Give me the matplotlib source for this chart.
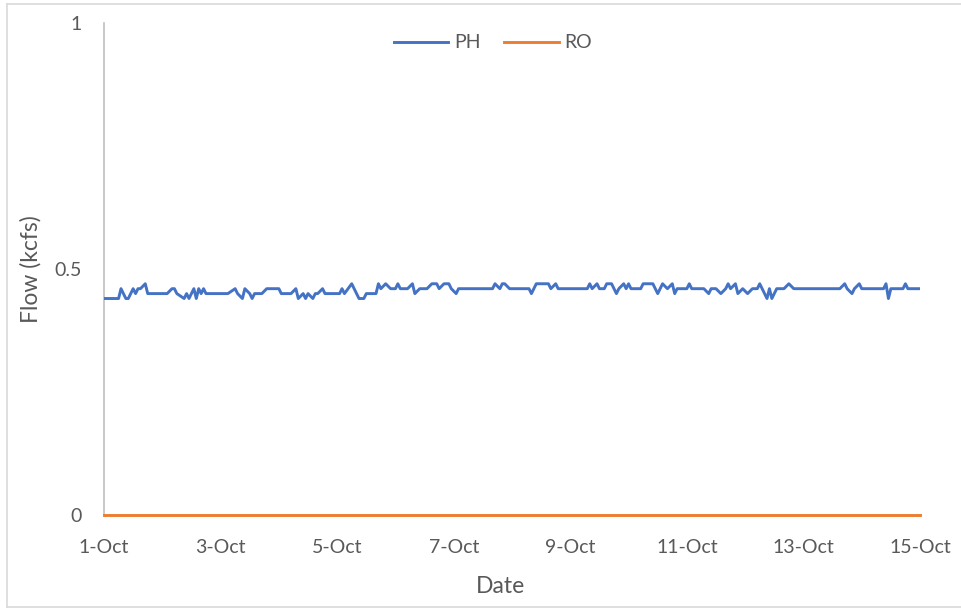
import datetime as dt
import matplotlib
matplotlib.use("Agg")
import matplotlib.pyplot as plt
import matplotlib.dates as mdates
from matplotlib.lines import Line2D
from matplotlib.ticker import FuncFormatter

# Hourly flow record, stored as change points (hours after 1-Oct 00:00, kcfs)
ph_hours = [0, 6, 7, 9, 10, 11, 12, 13, 14, 15, 17, 18, 26, 28, 29, 30, 33, 34, 35,
            37, 38, 39, 40, 41, 42, 49, 51, 54, 55, 57, 58, 60, 61, 62, 65, 67, 72,
            73, 77, 79, 80, 82, 83, 84, 86, 87, 88, 90, 91, 97, 98, 99, 102, 104,
            105, 107, 108, 112, 113, 114, 116, 118, 120, 121, 122, 125, 127, 128,
            130, 133, 135, 137, 138, 140, 142, 143, 145, 146, 160, 161, 163, 164,
            165, 167, 175, 176, 178, 183, 184, 186, 187, 199, 200, 201, 203, 204,
            206, 207, 209, 210, 211, 212, 214, 215, 216, 217, 221, 222, 226, 227,
            228, 229, 230, 232, 234, 235, 236, 240, 241, 242, 247, 249, 250, 252,
            254, 256, 257, 258, 260, 261, 263, 265, 267, 269, 270, 271, 273, 274,
            275, 277, 280, 282, 284, 303, 305, 306, 308, 309, 311, 312, 321, 322,
            323, 324, 329, 330, 331, 336]
ph_flow = [0.44, 0.44, 0.46, 0.44, 0.44, 0.45, 0.46, 0.45, 0.46, 0.46, 0.47, 0.45,
           0.45, 0.46, 0.46, 0.45, 0.44, 0.45, 0.44, 0.46, 0.44, 0.46, 0.45, 0.46,
           0.45, 0.45, 0.45, 0.46, 0.45, 0.44, 0.46, 0.45, 0.44, 0.45, 0.45, 0.46,
           0.46, 0.45, 0.45, 0.46, 0.44, 0.45, 0.44, 0.45, 0.44, 0.45, 0.45, 0.46,
           0.45, 0.45, 0.46, 0.45, 0.47, 0.45, 0.44, 0.44, 0.45, 0.45, 0.47, 0.46,
           0.47, 0.46, 0.46, 0.47, 0.46, 0.46, 0.47, 0.45, 0.46, 0.46, 0.47, 0.47,
           0.46, 0.47, 0.47, 0.46, 0.45, 0.46, 0.46, 0.47, 0.46, 0.47, 0.47, 0.46,
           0.46, 0.45, 0.47, 0.47, 0.46, 0.47, 0.46, 0.46, 0.47, 0.46, 0.47, 0.46,
           0.46, 0.47, 0.47, 0.46, 0.45, 0.46, 0.47, 0.46, 0.47, 0.46, 0.46, 0.47,
           0.47, 0.46, 0.45, 0.46, 0.47, 0.46, 0.47, 0.45, 0.46, 0.46, 0.47, 0.46,
           0.46, 0.45, 0.46, 0.46, 0.45, 0.46, 0.47, 0.46, 0.47, 0.45, 0.46, 0.45,
           0.46, 0.46, 0.47, 0.46, 0.44, 0.46, 0.44, 0.46, 0.46, 0.47, 0.46, 0.46,
           0.47, 0.46, 0.45, 0.46, 0.47, 0.46, 0.46, 0.47, 0.44, 0.46, 0.46, 0.47,
           0.46, 0.46]
ro_hours = [0, 336]
ro_flow = [0.0, 0.0]

y_ticks = [0, 0.5, 1]
y_tick_labels = ["0", "0.5", "1"]
series_names = ["PH", "RO"]

start = dt.datetime(2023, 10, 1)
ph_time = [start + dt.timedelta(hours=h) for h in ph_hours]
ro_time = [start + dt.timedelta(hours=h) for h in ro_hours]

plt.rcParams["font.family"] = ["Lato", "DejaVu Sans"]
text_color = "#595959"
blue = "#4472C4"
orange = "#ED7D31"

fig = plt.figure(figsize=(9.62, 6.09), dpi=100)
ax = fig.add_axes([104 / 962, 1 - 515 / 609, 816 / 962, 492 / 609])

ax.plot(ph_time, ph_flow, color=blue, lw=2.1, solid_joinstyle="round", zorder=3)
ax.plot(ro_time, ro_flow, color=orange, lw=2.1, zorder=3, clip_on=False)

ax.set_xlim(start, start + dt.timedelta(hours=336))
ax.set_ylim(0, 1)

ax.xaxis.set_major_locator(mdates.DayLocator(bymonthday=range(1, 32, 2)))
ax.xaxis.set_major_formatter(
    FuncFormatter(lambda v, p: f"{mdates.num2date(v).day}-{mdates.num2date(v):%b}"))
ax.set_yticks(y_ticks)
ax.set_yticklabels(y_tick_labels)

for side in ("top", "right", "bottom"):
    ax.spines[side].set_visible(False)
ax.spines["left"].set_color("#BFBFBF")
ax.spines["left"].set_linewidth(1.2)

ax.tick_params(axis="both", length=0, labelsize=14, colors=text_color)
ax.tick_params(axis="y", pad=16)
ax.tick_params(axis="x", pad=17)

ax.set_xlabel("Date", fontsize=16.5, color=text_color)
ax.set_ylabel("Flow (kcfs)", fontsize=16.5, color=text_color)
ax.xaxis.set_label_coords(0.4865, -0.124)
ax.yaxis.set_label_coords(-0.077, 0.5)

handles = [Line2D([], [], color=blue, lw=2.1), Line2D([], [], color=orange, lw=2.1)]
leg = fig.legend(handles, series_names, loc="center", bbox_to_anchor=(493 / 962, 1 - 43 / 609),
                 ncol=2, frameon=False, fontsize=14, handlelength=2.8,
                 handletextpad=0.3, columnspacing=1.2)
for t in leg.get_texts():
    t.set_color(text_color)

# chart area frame
frame_kw = dict(color="#D9D9D9", lw=1.2, transform=fig.transFigure)
fig.add_artist(Line2D([7 / 962, 1], [1 - 4 / 609, 1 - 4 / 609], **frame_kw))
fig.add_artist(Line2D([7 / 962, 7 / 962], [1 - 4 / 609, 1 - 607 / 609], **frame_kw))
fig.add_artist(Line2D([7 / 962, 1], [1 - 607 / 609, 1 - 607 / 609], **frame_kw))

fig.savefig("out.png", dpi=100, facecolor="white")
